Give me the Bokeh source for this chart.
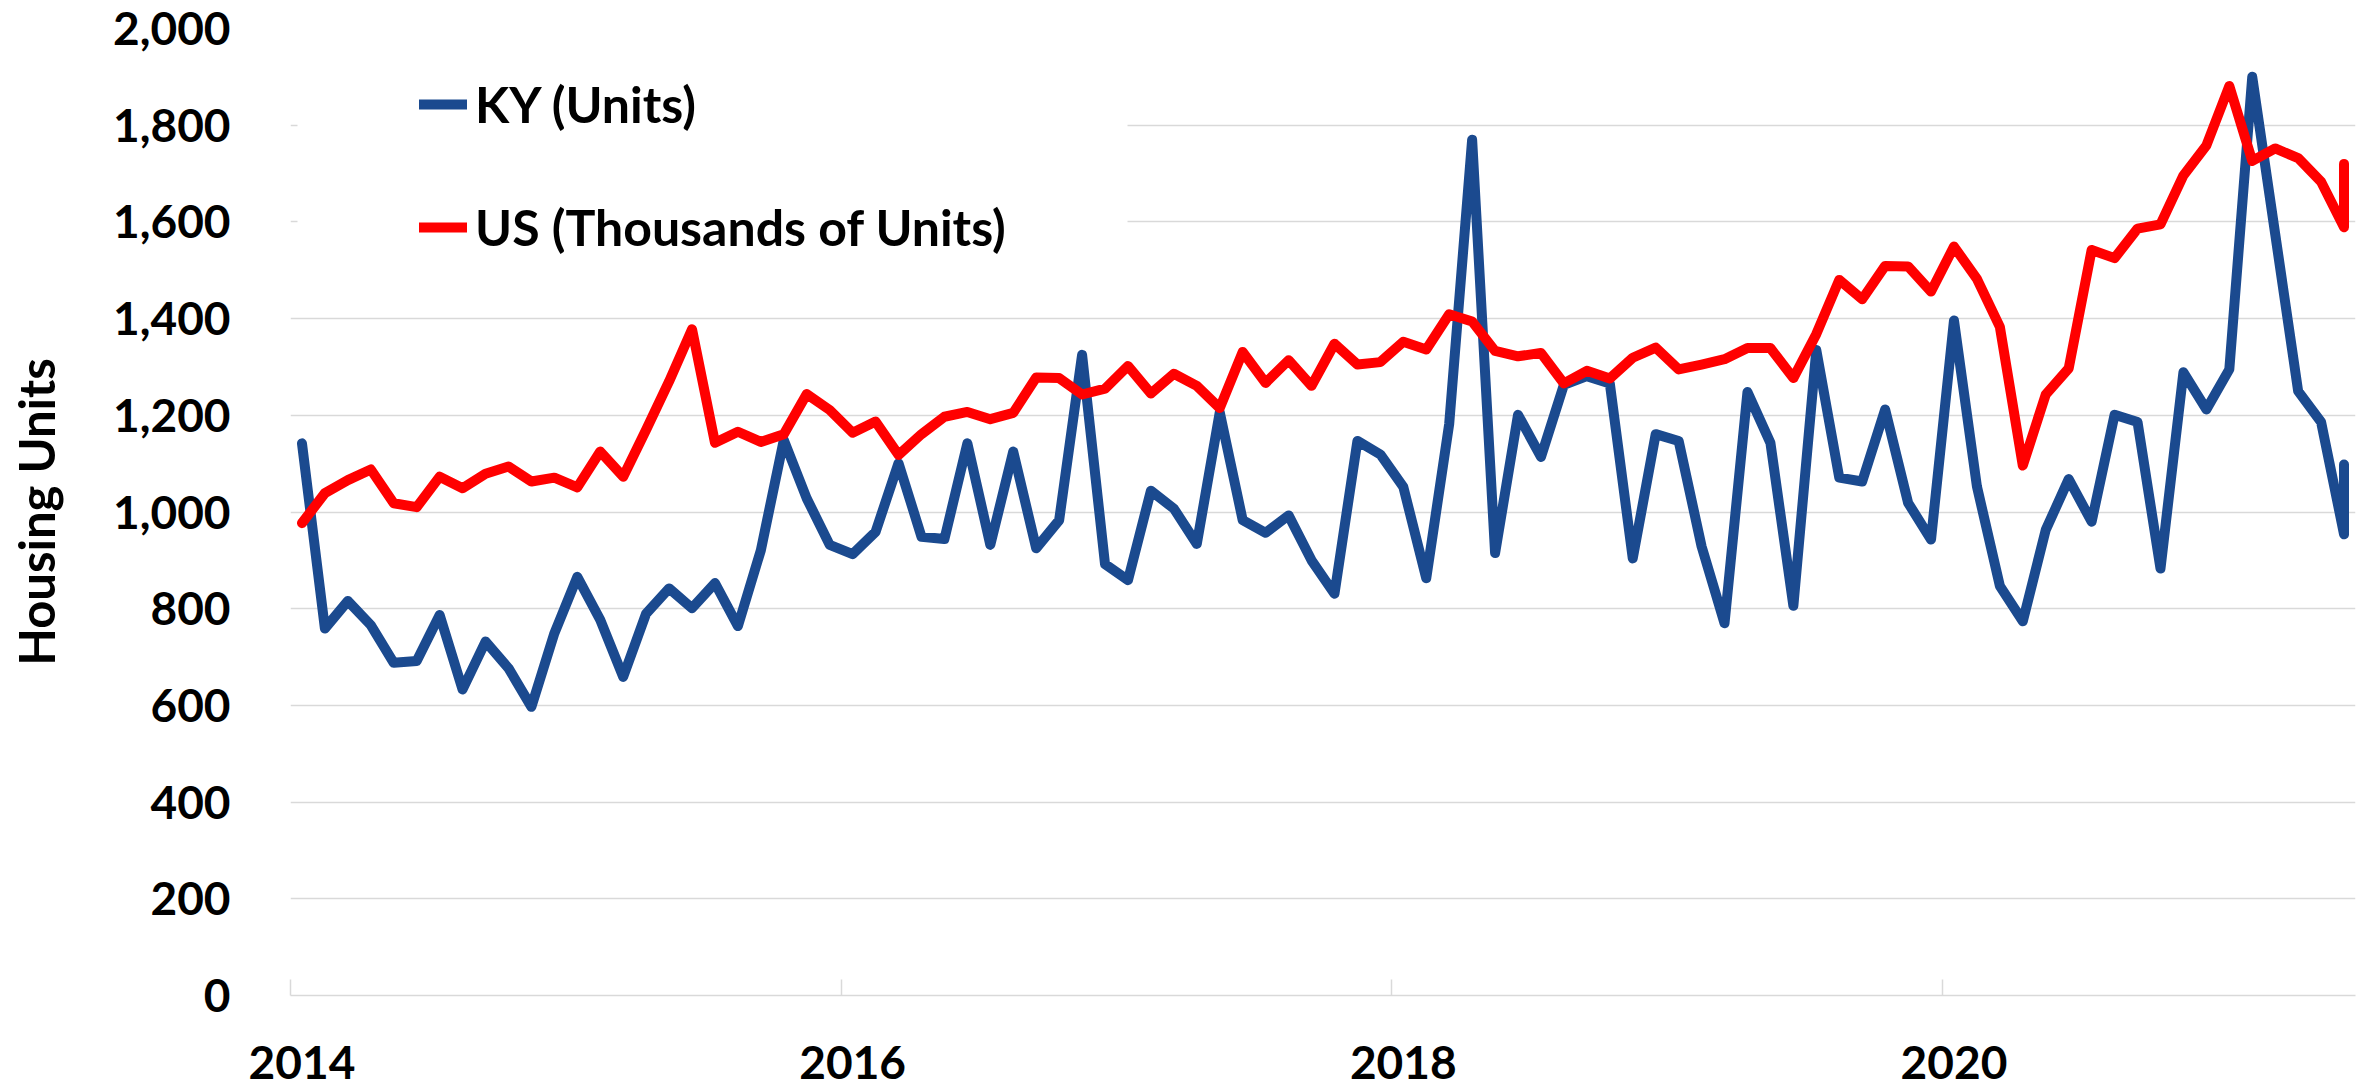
from bokeh.plotting import figure
from bokeh.models import (Range1d, FixedTicker, NumeralTickFormatter, Legend,
                          LegendItem, ColumnDataSource, BoxAnnotation)
from bokeh.embed import file_html
from bokeh.resources import INLINE

# ---- data -------------------------------------------------------------
months = [f"{y}-{m:02d}" for y in range(2014, 2022) for m in range(1, 13)][:90] + ["2021-06"]

ky_units = [1142, 759, 816, 766, 688, 692, 787, 633, 732, 677, 597, 749,
            866, 777, 659, 790, 842, 801, 853, 764, 921, 1149, 1028, 932,
            913, 959, 1101, 949, 944, 1142, 932, 1125, 925, 983, 1325, 892,
            859, 1044, 1007, 934, 1206, 983, 957, 993, 900, 831, 1147, 1119,
            1052, 863, 1182, 1770, 915, 1201, 1114, 1263, 1281, 1266, 904, 1161,
            1147, 929, 770, 1248, 1143, 806, 1335, 1071, 1063, 1212, 1019, 943,
            1396, 1053, 847, 774, 963, 1068, 980, 1201, 1186, 883, 1289, 1212,
            1295, 1900, 1575, 1250, 1186, 954, 1098]

us_thousands = [977, 1039, 1066, 1088, 1018, 1010, 1073, 1049, 1079, 1094, 1063, 1071,
                1051, 1125, 1073, 1170, 1270, 1378, 1143, 1166, 1145, 1161, 1244, 1211,
                1164, 1187, 1118, 1161, 1197, 1207, 1192, 1205, 1278, 1277, 1243, 1255,
                1302, 1245, 1286, 1261, 1215, 1331, 1267, 1314, 1261, 1348, 1305, 1310,
                1352, 1336, 1409, 1394, 1333, 1322, 1329, 1266, 1292, 1276, 1319, 1340,
                1295, 1305, 1316, 1339, 1339, 1277, 1368, 1480, 1440, 1509, 1508, 1456,
                1549, 1482, 1383, 1096, 1243, 1297, 1542, 1525, 1586, 1595, 1696, 1758,
                1881, 1726, 1752, 1732, 1683, 1589, 1720]

year_labels = ["2014", "2016", "2018", "2020"]
y_ticks = list(range(0, 2001, 200))


def month_pos(s):
    y, m = map(int, s.split("-"))
    return (y - 2014) * 12 + (m - 1) + 0.5   # centred in its month slot


x = [month_pos(s) for s in months]
src = ColumnDataSource(dict(x=x, ky=ky_units, us=us_thousands))

FONT = "Lato"
BLUE = "#1B4A8F"
RED = "#FF0000"
GRID = "#D9D9D9"

p = figure(frame_width=2065, frame_height=967,
           x_range=Range1d(0, 90), y_range=Range1d(0, 2000),
           output_backend="svg", toolbar_location=None,
           min_border_left=290, min_border_right=6,
           min_border_top=28, min_border_bottom=93)
p.outline_line_color = None
p.background_fill_color = "white"

# legend background (hides gridlines like the original legend box)
p.add_layout(BoxAnnotation(left=7, right=837, top=950, bottom=700,
                           left_units="screen", right_units="screen",
                           top_units="screen", bottom_units="screen",
                           fill_color="white", fill_alpha=1.0,
                           line_color=None, level="underlay"))

r_ky = p.line("x", "ky", source=src, line_color=BLUE, line_width=10,
              line_join="round", line_cap="round")
r_us = p.line("x", "us", source=src, line_color=RED, line_width=10,
              line_join="round", line_cap="round")

# x axis: boundary tick marks at each January, year labels centred on January
year_pos = [month_pos(f"{y}-01") for y in year_labels]
p.xaxis.ticker = FixedTicker(ticks=year_pos,
                             minor_ticks=[v - 0.5 for v in year_pos])
p.xaxis.major_label_overrides = {v: lab for v, lab in zip(year_pos, year_labels)}
p.xaxis.major_label_text_font = FONT
p.xaxis.major_label_text_font_style = "bold"
p.xaxis.major_label_text_font_size = "46px"
p.xaxis.major_label_text_color = "black"
p.xaxis.major_label_standoff = 50
p.xaxis.major_tick_in = 0
p.xaxis.major_tick_out = 0
p.xaxis.minor_tick_in = 16
p.xaxis.minor_tick_out = 0
p.xaxis.minor_tick_line_color = GRID
p.xaxis.minor_tick_line_width = 1.5
p.xaxis.axis_line_color = GRID
p.xaxis.axis_line_width = 1.5

# y axis
p.yaxis.ticker = FixedTicker(ticks=y_ticks)
p.yaxis.formatter = NumeralTickFormatter(format="0,0")
p.yaxis.axis_line_color = None
p.yaxis.major_tick_in = 0
p.yaxis.major_tick_out = 0
p.yaxis.minor_tick_in = 0
p.yaxis.minor_tick_out = 0
p.yaxis.major_label_text_font = FONT
p.yaxis.major_label_text_font_style = "bold"
p.yaxis.major_label_text_font_size = "46px"
p.yaxis.major_label_text_color = "black"
p.yaxis.major_label_standoff = 60
p.yaxis.axis_label = "Housing Units"
p.yaxis.axis_label_text_font = FONT
p.yaxis.axis_label_text_font_style = "bold"
p.yaxis.axis_label_text_font_size = "49px"
p.yaxis.axis_label_text_color = "black"
p.yaxis.axis_label_standoff = 45

p.xgrid.grid_line_color = None
p.ygrid.ticker = FixedTicker(ticks=y_ticks)
p.ygrid.grid_line_color = GRID
p.ygrid.grid_line_width = 1.5

legend = Legend(items=[LegendItem(label="KY (Units)", renderers=[r_ky]),
                       LegendItem(label="US (Thousands of Units)", renderers=[r_us])],
                location=(129, 736), orientation="vertical",
                padding=0, margin=0, spacing=59,
                glyph_width=48, glyph_height=64, label_height=64,
                label_standoff=8,
                label_text_font=FONT, label_text_font_style="bold",
                label_text_font_size="50px", label_text_color="black",
                border_line_color=None, background_fill_alpha=0.0)
p.add_layout(legend)

open("out.html", "w").write(file_html(p, INLINE))
